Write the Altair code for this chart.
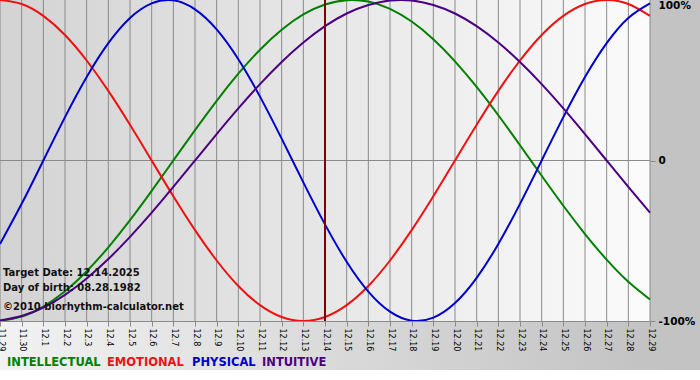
import altair as alt
import pandas as pd

# ---- data ----
dates = ["11.29", "11.30", "12.1", "12.2", "12.3", "12.4", "12.5", "12.6", "12.7", "12.8",
         "12.9", "12.10", "12.11", "12.12", "12.13", "12.14", "12.15", "12.16", "12.17",
         "12.18", "12.19", "12.20", "12.21", "12.22", "12.23", "12.24", "12.25", "12.26",
         "12.27", "12.28", "12.29"]

intellectual = [-99.9, -97.2, -91.0, -81.5, -69.0, -54.1, -37.2, -18.9, 0, 18.9, 37.2, 54.1,
                69.0, 81.5, 91.0, 97.2, 99.9, 99.0, 94.5, 86.6, 75.6, 61.8, 45.8, 28.2, 9.5,
                -9.5, -28.2, -45.8, -61.8, -75.6, -86.6]
emotional = [100, 97.5, 90.1, 78.2, 62.3, 43.4, 22.3, 0, -22.3, -43.4, -62.3, -78.2, -90.1,
             -97.5, -100, -97.5, -90.1, -78.2, -62.3, -43.4, -22.3, 0, 22.3, 43.4, 62.3, 78.2,
             90.1, 97.5, 100, 97.5, 90.1]
physical = [-52.0, -27.0, 0, 27.0, 52.0, 73.1, 88.8, 97.9, 99.8, 94.2, 81.7, 63.1, 39.8, 13.6,
            -13.6, -39.8, -63.1, -81.7, -94.2, -99.8, -97.9, -88.8, -73.1, -52.0, -27.0, 0,
            27.0, 52.0, 73.1, 88.8, 97.9]
intuitive = [-99.7, -96.9, -91.6, -83.7, -73.5, -61.4, -47.6, -32.5, -16.5, 0, 16.5, 32.5,
             47.6, 61.4, 73.5, 83.7, 91.6, 96.9, 99.7, 99.7, 96.9, 91.6, 83.7, 73.5, 61.4,
             47.6, 32.5, 16.5, 0, -16.5, -32.5]

series_names = ["INTELLECTUAL", "EMOTIONAL", "PHYSICAL", "INTUITIVE"]
series_colors = ["#008000", "#ee1111", "#0000cc", "#4b0082"]
target_date = "12.14"
y_ticks = [-100, 0, 100]

rows = []
for name, vals in zip(series_names, [intellectual, emotional, physical, intuitive]):
    for d, v in zip(dates, vals):
        rows.append({"date": d, "value": v, "series": name})
df = pd.DataFrame(rows)

FONT = "DejaVu Sans"
GRID = "#8a8a8a"

x_scale = alt.Scale(type="point", padding=0, domain=dates)
x_axis = alt.Axis(
    title=None, grid=False, domain=True, domainColor=GRID, ticks=True, tickColor=GRID,
    tickSize=5, labelAngle=90, labelFont=FONT, labelFontSize=8, labelColor="#000000",
    labelPadding=2, labelOverlap=False, zindex=1,
)
y_scale = alt.Scale(domain=[-100, 100], nice=False, zero=False)
y_axis = alt.Axis(
    title=None, orient="right", values=y_ticks, grid=False, domain=False,
    ticks=True, tickColor=GRID, tickSize=5,
    tickOpacity={"condition": {"test": "datum.value == 100", "value": 0}, "value": 1},
    labelExpr="datum.value == 0 ? '0' : datum.value + '%'",
    labelFont=FONT, labelFontSize=10.5, labelFontWeight="bold", labelColor="#000000",
    labelPadding=3,
    labelBaseline={"condition": {"test": "datum.value == 100", "value": "top"}, "value": "middle"},
    zindex=1,
)

one = alt.Data(values=[{}])

outer_bg = alt.Chart(one).mark_rect(
    clip=False,
    fill={"gradient": "linear", "x1": 0, "x2": 1, "y1": 0, "y2": 0,
          "stops": [{"offset": 0, "color": "#f2f2f2"},
                    {"offset": 0.9, "color": "#c4c4c4"},
                    {"offset": 1, "color": "#c2c2c2"}]},
).encode(x=alt.value(0), x2=alt.value(700), y=alt.value(0), y2=alt.value(370))

plot_bg = alt.Chart(one).mark_rect(
    fill={"gradient": "linear", "x1": 0, "x2": 1, "y1": 0, "y2": 0,
          "stops": [{"offset": 0, "color": "#d3d3d3"},
                    {"offset": 1, "color": "#fbfbfb"}]},
).encode(x=alt.value(0), x2=alt.value("width"), y=alt.value(0), y2=alt.value("height"))

vgrid = alt.Chart(pd.DataFrame({"date": dates})).mark_rule(
    color=GRID, strokeWidth=1
).encode(x=alt.X("date:O", scale=x_scale, axis=x_axis))

zero_line = alt.Chart(pd.DataFrame({"value": [0]})).mark_rule(
    color=GRID, strokeWidth=1
).encode(y=alt.Y("value:Q", scale=y_scale, axis=y_axis))

lines = alt.Chart(df).mark_line(strokeWidth=2, interpolate="natural").encode(
    x=alt.X("date:O", scale=x_scale, axis=x_axis),
    y=alt.Y("value:Q", scale=y_scale, axis=y_axis),
    color=alt.Color("series:N", scale=alt.Scale(domain=series_names, range=series_colors),
                    legend=None),
    detail="series:N",
)

target_rule = alt.Chart(pd.DataFrame({"date": [target_date]})).mark_rule(
    color="#800000", strokeWidth=2
).encode(x=alt.X("date:O", scale=x_scale, axis=x_axis))


def note(txt, x, y, size=10, color="#111111"):
    return alt.Chart(one).mark_text(
        text=txt, align="left", baseline="alphabetic", font=FONT, fontSize=size,
        fontWeight="bold", color=color, clip=False,
    ).encode(x=alt.value(x), y=alt.value(y))


notes = [
    note("Target Date: 12.14.2025", 3, 276),
    note("Day of birth: 08.28.1982", 3, 291),
    note("\u00a92010 biorhythm-calculator.net", 3, 310),
]
legend_x = [7, 107, 192, 262]
legend_items = [note(n, lx, 366, size=11.5, color=c)
                for n, lx, c in zip(series_names, legend_x, series_colors)]

chart = alt.layer(
    outer_bg, plot_bg, vgrid, zero_line, lines, target_rule, *notes, *legend_items
).properties(
    width=650, height=321,
    autosize=alt.AutoSizeParams(type="none"),
    padding={"left": 0, "top": 0, "right": 50, "bottom": 59},
    background="#ffffff",
).configure_view(stroke=None)

chart.save("out.html", embed_options={"renderer": "svg", "actions": False})
